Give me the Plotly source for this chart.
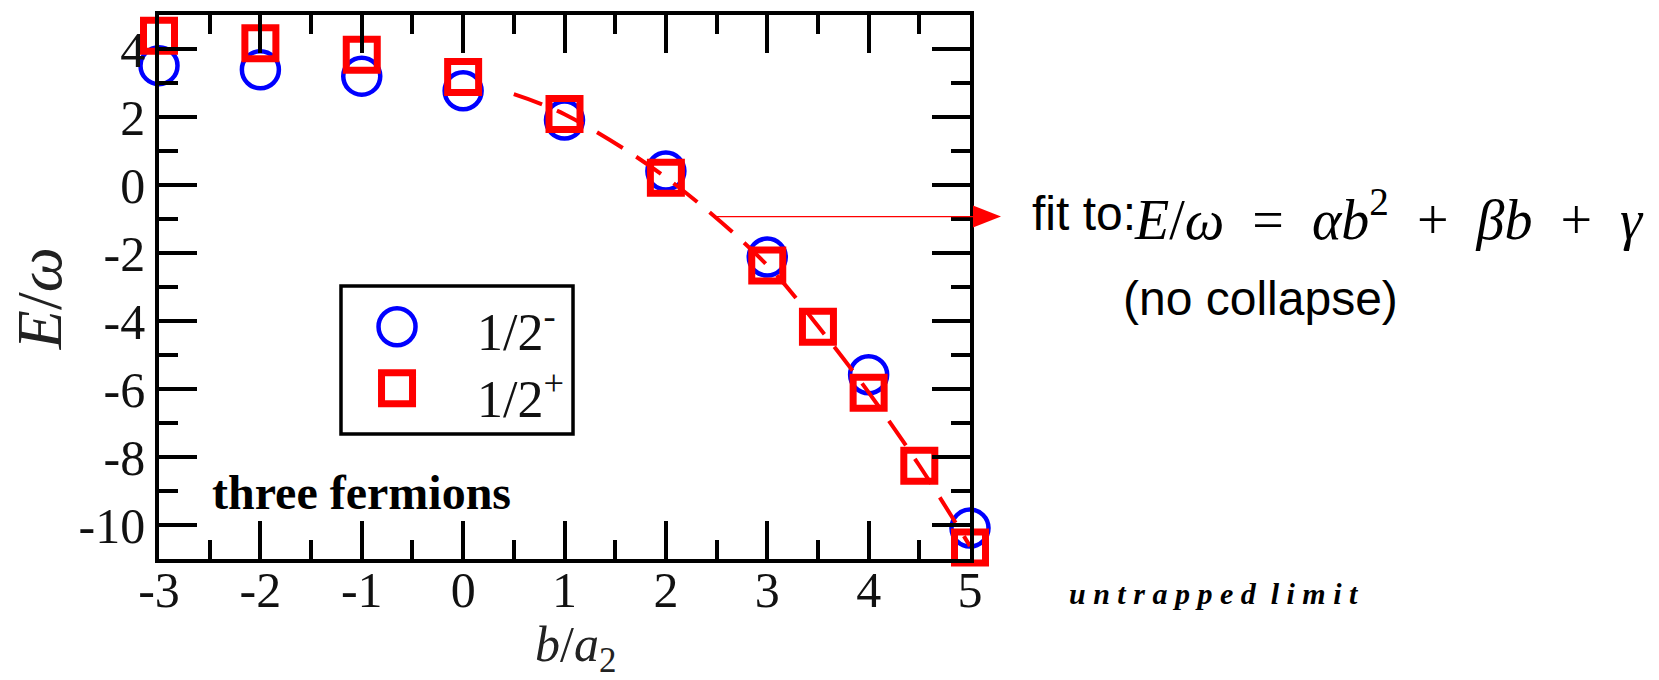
import plotly.graph_objects as go

# b/a2 values and energies E/omega for the two parity states
b_minus = [-3, -2, -1, 0, 1, 2, 3, 4, 5]
e_minus = [3.51, 3.39, 3.20, 2.77, 1.91, 0.41, -2.12, -5.58, -10.09]

b_plus = [-3, -2, -1, 0, 1, 2, 3, 3.5, 4, 4.5, 5]
e_plus = [4.39, 4.17, 3.83, 3.18, 2.09, 0.21, -2.37, -4.17, -6.11, -8.26, -10.66]

# quadratic fit curve through the 1/2+ points
b_fit = [0.5, 1, 2, 3, 3.5, 4, 4.5, 5]
e_fit = [2.67, 2.08, 0.22, -2.36, -4.15, -6.10, -8.25, -10.62]

x_tickvals = [-3, -2, -1, 0, 1, 2, 3, 4, 5]
x_ticktext = ["-3", "-2", "-1", "0", "1", "2", "3", "4", "5"]
y_tickvals = [-10, -8, -6, -4, -2, 0, 2, 4]
y_ticktext = ["-10", "-8", "-6", "-4", "-2", "0", "2", "4"]

x_range = [-3, 5]
y_range = [-11, 5]

arrow_b0 = 2.5      # start of the pointer to the fit formula
arrow_e = -0.93

BLUE = "#0000ff"
RED = "#ff0000"
SERIF = "Liberation Serif"
SANS = "Liberation Sans"

fig = go.Figure()

fig.add_trace(go.Scatter(
    x=b_minus, y=e_minus, mode="markers", name="1/2-",
    marker=dict(symbol="circle-open", size=37, color=BLUE,
                line=dict(color=BLUE, width=4.5)),
    cliponaxis=False, showlegend=False,
))
fig.add_trace(go.Scatter(
    x=b_plus, y=e_plus, mode="markers", name="1/2+",
    marker=dict(symbol="square-open", size=31, color=RED,
                line=dict(color=RED, width=7)),
    cliponaxis=False, showlegend=False,
))
fig.add_trace(go.Scatter(
    x=b_fit, y=e_fit, mode="lines", name="fit",
    line=dict(color=RED, width=4, dash="30px,16px", shape="spline"),
    cliponaxis=False, showlegend=False,
))

axis_common = dict(
    showline=True, linecolor="black", linewidth=3.5, mirror="ticks",
    ticks="inside", ticklen=38, tickwidth=3.5, tickcolor="black",
    showgrid=False, zeroline=False,
    tickfont=dict(family=SERIF, size=50, color="#111"),
)

fig.update_xaxes(
    range=x_range, tickmode="array", tickvals=x_tickvals, ticktext=x_ticktext,
    ticklabelstandoff=-16,
    minor=dict(ticks="inside", dtick=0.5, tick0=0, ticklen=19, tickwidth=3.5,
               tickcolor="black", showgrid=False),
    **axis_common,
)
fig.update_yaxes(
    range=y_range, tickmode="array", tickvals=y_tickvals, ticktext=y_ticktext,
    minor=dict(ticks="inside", dtick=1, tick0=0, ticklen=19, tickwidth=3.5,
               tickcolor="black", showgrid=False),
    **axis_common,
)

def py(e):
    return (e - y_range[0]) / (y_range[1] - y_range[0])

def px(b):
    return (b - x_range[0]) / (x_range[1] - x_range[0])

shapes = [
    # legend frame
    dict(type="rect", xref="paper", yref="paper", x0=0.2244, x1=0.5105,
         y0=0.2299, y1=0.5018, line=dict(color="black", width=3.5),
         fillcolor="white", layer="above"),
    # legend keys
    dict(type="circle", xref="paper", yref="paper", xsizemode="pixel",
         ysizemode="pixel", xanchor=0.2935, yanchor=0.427,
         x0=-18.5, x1=18.5, y0=-18.5, y1=18.5,
         line=dict(color=BLUE, width=4.5)),
    dict(type="rect", xref="paper", yref="paper", xsizemode="pixel",
         ysizemode="pixel", xanchor=0.2935, yanchor=0.3139,
         x0=-15.5, x1=15.5, y0=-15.5, y1=15.5,
         line=dict(color=RED, width=7)),
    # pointer from the fit curve to the formula
    dict(type="line", xref="paper", yref="paper", x0=px(arrow_b0), x1=1.0037,
         y0=py(arrow_e), y1=py(arrow_e), line=dict(color=RED, width=1.2)),
    dict(type="path", xref="paper", yref="paper", xsizemode="pixel",
         ysizemode="pixel", xanchor=1.0037, yanchor=py(arrow_e),
         path="M0,-11 L28,0 L0,11 Z", fillcolor=RED, line=dict(color=RED, width=0)),
]

EN = "\u2002"
formula = ("<i>E</i>/<i>ω</i>" + EN + "=" + EN + "<i>αb</i><sup>2</sup>" + EN + "+" + EN
           + "<i>βb</i>" + EN + "+" + EN + "<i>γ</i>")

annotations = [
    dict(text="1/2<sup>-</sup>", x=0.3896, y=0.4234, xref="paper", yref="paper",
         xanchor="left", yanchor="middle", showarrow=False,
         font=dict(family=SERIF, size=52, color="#111")),
    dict(text="1/2<sup>+</sup>", x=0.3896, y=0.300, xref="paper", yref="paper",
         xanchor="left", yanchor="middle", showarrow=False,
         font=dict(family=SERIF, size=52, color="#111")),
    dict(text="<b>three fermions</b>", x=0.0630, y=0.122, xref="paper", yref="paper",
         xanchor="left", yanchor="middle", showarrow=False,
         font=dict(family=SERIF, size=48, color="black")),
    dict(text="<i>b</i>/<i>a</i><sub>2</sub>", x=0.514, y=-0.163, xref="paper",
         yref="paper", xanchor="center", yanchor="middle", showarrow=False,
         font=dict(family=SERIF, size=50, color="#222")),
    dict(text="<i>E</i>/<i>ω</i>", x=-0.1465, y=0.478, xref="paper", yref="paper",
         xanchor="center", yanchor="middle", textangle=-90, showarrow=False,
         font=dict(family=SERIF, size=64, color="#222")),
    dict(text="fit to:", x=1.0745, y=0.635, xref="paper", yref="paper",
         xanchor="left", yanchor="middle", showarrow=False,
         font=dict(family=SANS, size=48, color="black")),
    dict(text=formula,
         x=1.200, y=0.632, xref="paper", yref="paper",
         xanchor="left", yanchor="middle", showarrow=False,
         font=dict(family=SERIF, size=56, color="black")),
    dict(text="(no collapse)", x=1.3576, y=0.478, xref="paper", yref="paper",
         xanchor="center", yanchor="middle", showarrow=False,
         font=dict(family=SANS, size=48, color="black")),
    dict(text="u\u2005n\u2005t\u2005r\u2005a\u2005p\u2005p\u2005e\u2005d\u2005 l\u2005i\u2005m\u2005i\u2005t",
         x=1.3009, y=-0.064, xref="paper", yref="paper",
         xanchor="center", yanchor="middle", showarrow=False,
         font=dict(family=SERIF, size=30, color="black", style="italic", weight="bold")),
]

fig.update_layout(
    width=1659, height=680, autosize=False,
    margin=dict(l=159, r=689, t=11, b=121, pad=0),
    paper_bgcolor="white", plot_bgcolor="white",
    showlegend=False,
    shapes=shapes, annotations=annotations,
)

fig.write_html("out.html")
